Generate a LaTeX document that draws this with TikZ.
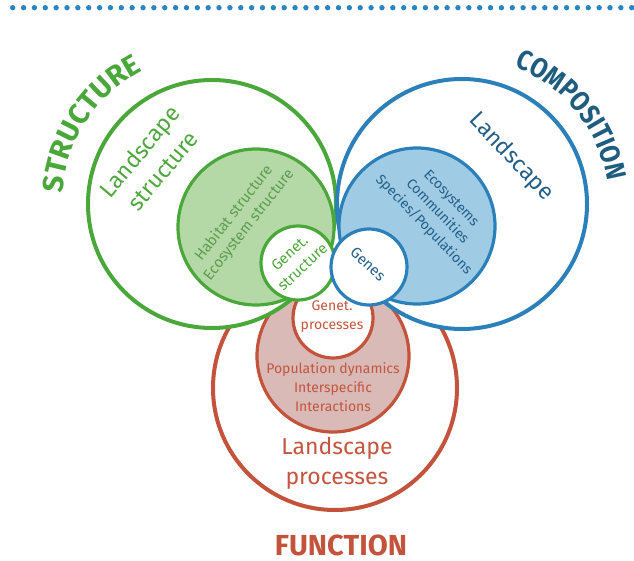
\documentclass[tikz,border=0pt]{standalone}
\usepackage{fontspec}
\setmainfont{Fira Sans}
\newfontfamily\compfont[FakeStretch=0.86]{Fira Sans}
\usetikzlibrary{decorations.text}
\definecolor{gline}{HTML}{4AA83A}
\definecolor{gfill}{HTML}{B5D8A7}
\definecolor{gtext}{HTML}{4FA83E}
\definecolor{gtextb}{HTML}{5E9C52}
\definecolor{bline}{HTML}{2C80B9}
\definecolor{bfill}{HTML}{9FCBE5}
\definecolor{btext}{HTML}{245F86}
\definecolor{btitle}{HTML}{1E5D80}
\definecolor{rline}{HTML}{C3533B}
\definecolor{rfill}{HTML}{D9BAB7}
\definecolor{rtext}{HTML}{C4553F}
\definecolor{dotcol}{HTML}{2A86C3}
\tikzset{
  ring/.style={circle, inner sep=0pt, outer sep=0pt},
  outerg/.style={ring, draw=gline, line width=4pt, fill=white},
  innerg/.style={ring, draw=gline, line width=3.2pt, fill=gfill},
  smallg/.style={ring, draw=gline, line width=3.2pt, fill=white},
  outerb/.style={ring, draw=bline, line width=4pt, fill=white},
  innerb/.style={ring, draw=bline, line width=3.2pt, fill=bfill},
  smallb/.style={ring, draw=bline, line width=3.2pt, fill=white},
  outerr/.style={ring, draw=rline, line width=4pt, fill=white},
  innerr/.style={ring, draw=rline, line width=3.2pt, fill=rfill},
  smallr/.style={ring, draw=rline, line width=3.2pt, fill=white},
  biglbl/.style={align=center, inner sep=0pt, font=\fontsize{23}{30}\selectfont},
  midlbl/.style={align=center, inner sep=0pt, font=\fontsize{14}{19}\selectfont},
  genlbl/.style={align=center, inner sep=0pt, font=\fontsize{15}{19}\selectfont},
}
\begin{document}
\begin{tikzpicture}[x=1pt,y=1pt]
\useasboundingbox (0,0) rectangle (634,560);
% dotted rule
\coordinate (dotA) at (12.7,552.3);
\coordinate (dotB) at (634,552.3);
\draw[dotcol, line width=5.4pt, line cap=round, dash pattern=on 0pt off 10.86pt] (dotA) -- (dotB);

% FUNCTION group (drawn first, underneath)
\node[outerr, minimum size=244pt] (rbig) at (335,172) {};
\node[innerr, minimum size=152pt] (rmid) at (333,204) {};
\node[smallr, minimum size=80pt] (rsmall) at (333,242) {};

% STRUCTURE group
\node[outerg, minimum size=248pt] (gbig) at (212,356) {};
\node[innerg, minimum size=156pt] (gmid) at (256,333) {};
\node[smallg, minimum size=74pt] (gsmall) at (298,297) {};

% COMPOSITION group
\node[outerb, minimum size=250pt] (bbig) at (462,356) {};
\node[innerb, minimum size=156pt] (bmid) at (417,334) {};
\node[smallb, minimum size=76pt] (bsmall) at (369,293) {};

% labels
\node[biglbl, text=gtext, rotate=50] (glab1) at (151,399) {Landscape\\structure};
\node[genlbl, text=gtextb, rotate=52] (glab2) at (241.5,341) {Habitat structure\\Ecosystem structure};
\node[genlbl, text=gtext, rotate=43] (glab3) at (296,300) {Genet.\\structure};

\node[biglbl, text=btext, rotate=-46.5] (blab1) at (511,403) {Landscape};
\node[midlbl, text=btext, rotate=-46] (blab2) at (437,348) {Ecosystems\\Communities\\Species/Populations};
\node[genlbl, text=btext, rotate=-43] (blab3) at (368,296) {Genes};

\node[midlbl, text=rtext] (rlab3) at (332,243.5) {Genet.\\processes};
\node[midlbl, text=rtext] (rlab2) at (333,173) {Population dynamics\\Interspecific\\Interactions};
\node[biglbl, text=rtext] (rlab1) at (337,97) {Landscape\\processes};

% titles
\path[decorate, decoration={text along path, text align=center,
  text={|\fontsize{29}{30}\selectfont\bfseries\color{gline}|STRUCTURE}}]
  (212,356) ++(196.6:150) arc[start angle=196.6, end angle=96.6, radius=150];
\path[decorate, decoration={text along path, text align=center,
  text={|\compfont\fontsize{28}{30}\selectfont\bfseries\color{btitle}|COMPOSITION}}]
  (462,356) ++(89:147) arc[start angle=89, end angle=-11, radius=147];
\node[inner sep=0pt, text=rline, font=\fontsize{29}{30}\selectfont\bfseries] (ftitle) at (341,14.5) {FUNCTION};
\end{tikzpicture}
\end{document}
